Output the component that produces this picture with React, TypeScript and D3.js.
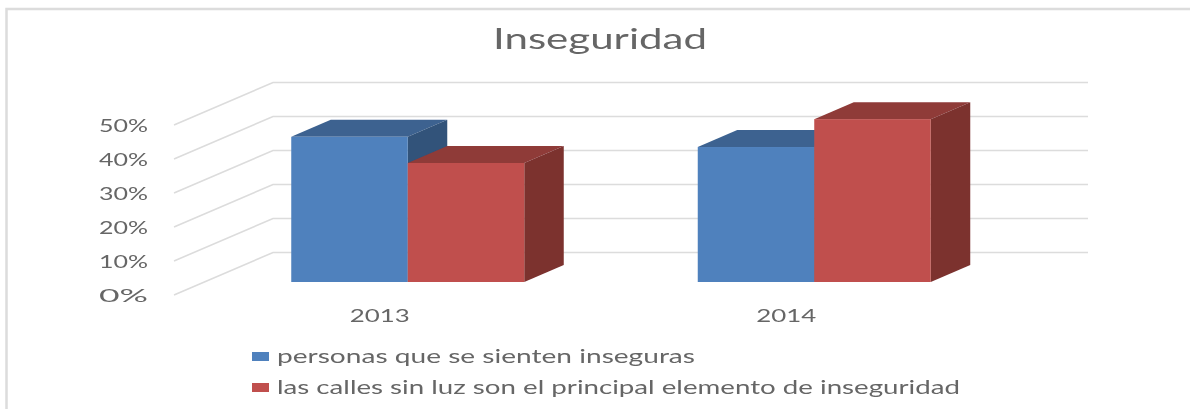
import React from "react";
import * as d3 from "d3";

const title = "Inseguridad";
const categories = ["2013", "2014"];
const seriesNames = [
  "personas que se sienten inseguras",
  "las calles sin luz son el principal elemento de inseguridad",
];
const seriesA = [0.427, 0.397];
const seriesB = [0.35, 0.479];
const yTicks = [0, 0.1, 0.2, 0.3, 0.4, 0.5];
const frontColors = ["#4f81bd", "#c0504d"];
const topColors = ["#3d6290", "#8f3a38"];
const sideColors = ["#31527a", "#7b302e"];
const legendWidths = [418, 683];

const W = 1190, H = 409;
const DX = 39.5, DY = 17; // bar depth
const y = d3.scaleLinear().domain([0, 0.5]).range([295, 125]);
const barBase = 282;
const barH = (v: number) => y(0) - y(v);
const x0 = d3.scaleBand().domain(categories).range([204.5, 1017.5]);
const barW = 116.5;

const poly = (pts: number[][]) => d3.line()(pts as [number, number][]) + "Z";

function Bar({ x, v, i }: { x: number; v: number; i: number }) {
  const t = barBase - barH(v);
  const r = x + barW;
  return (
    <g>
      <path d={poly([[x, t], [x + DX, t - DY], [r + DX, t - DY], [r, t]])} fill={topColors[i]} />
      <path d={poly([[r, t], [r + DX, t - DY], [r + DX, barBase - DY], [r, barBase]])} fill={sideColors[i]} />
      <rect x={x} y={t} width={barW} height={barBase - t} fill={frontColors[i]} />
    </g>
  );
}

const font = "Lato, 'Open Sans', sans-serif";
const textFill = "#666666";

export default function App() {
  return (
    <svg width={W} height={H} viewBox={`0 0 ${W} ${H}`}
      style={{ position: "absolute", left: 0, top: 0, background: "#fff" }} fontFamily={font}>
      <defs>
        <filter id="soft" x="-5%" y="-5%" width="110%" height="110%">
          <feGaussianBlur stdDeviation="0.5" />
        </filter>
      </defs>
      <path d={`M6.5,${H} V9 H${W}`} fill="none" stroke="#dcdcdc" strokeWidth={2.5} />
      <g stroke="#dcdcdc" strokeWidth={1.6} fill="none">
        {yTicks.map((t) => (
          <path key={t} d={`M174,${y(t)} L273,${y(t) - 42.5} H1088`} />
        ))}
      </g>
      <g filter="url(#soft)">
        <text x={493} y={49} fontSize={28} fill={textFill} textLength={214} lengthAdjust="spacingAndGlyphs">{title}</text>
        {yTicks.map((t) => (
          <text key={t} x={99} y={y(t) + 7} fontSize={18} fill={textFill} textLength={49} lengthAdjust="spacingAndGlyphs">
            {d3.format(".0%")(t)}
          </text>
        ))}
        {categories.map((c) => {
          const cx = (x0(c) as number) + x0.bandwidth() / 2;
          return (
            <text key={c} x={cx - 58} y={322} fontSize={18} fill={textFill} textLength={60} lengthAdjust="spacingAndGlyphs">{c}</text>
          );
        })}
        {categories.map((c, k) => {
          const cx = (x0(c) as number) + x0.bandwidth() / 2;
          return (
            <g key={c}>
              <Bar x={cx - barW} v={seriesA[k]} i={0} />
              <Bar x={cx} v={seriesB[k]} i={1} />
            </g>
          );
        })}
        {seriesNames.map((s, i) => (
          <g key={s}>
            <rect x={252} y={352 + i * 31} width={17} height={9} fill={frontColors[i]} />
            <text x={277} y={363 + i * 31} fontSize={19} fill={textFill} textLength={legendWidths[i]} lengthAdjust="spacingAndGlyphs">{s}</text>
          </g>
        ))}
      </g>
    </svg>
  );
}
